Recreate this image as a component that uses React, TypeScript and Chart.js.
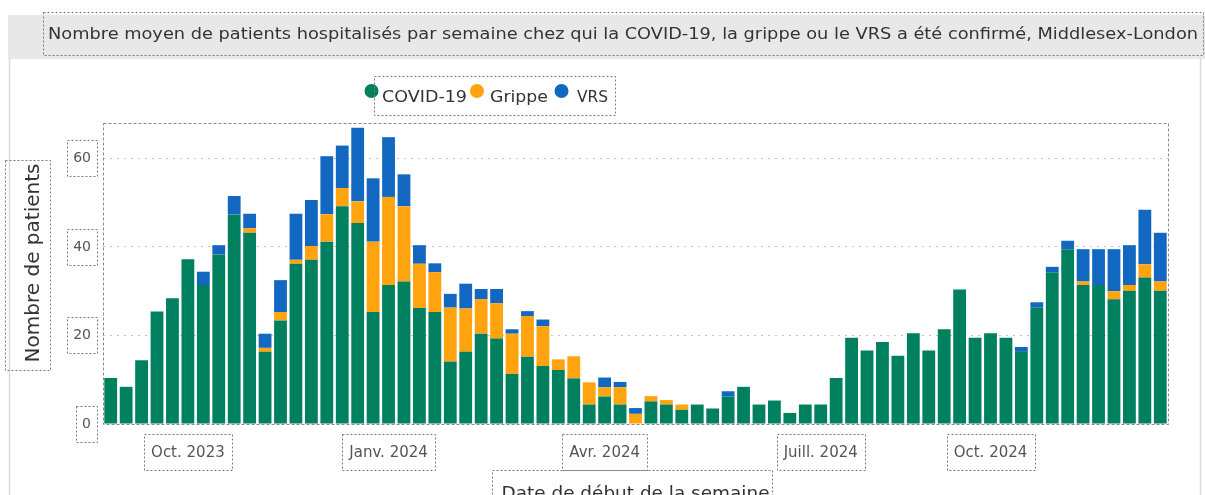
import React, { useEffect, useRef } from "react";
import { Chart, registerables } from "chart.js";

Chart.register(...registerables);

// ---------- data ----------
const weeks = [
  "2023-08-27", "2023-09-03", "2023-09-10", "2023-09-17", "2023-09-24", "2023-10-01", "2023-10-08", "2023-10-15",
  "2023-10-22", "2023-10-29", "2023-11-05", "2023-11-12", "2023-11-19", "2023-11-26", "2023-12-03", "2023-12-10",
  "2023-12-17", "2023-12-24", "2023-12-31", "2024-01-07", "2024-01-14", "2024-01-21", "2024-01-28", "2024-02-04",
  "2024-02-11", "2024-02-18", "2024-02-25", "2024-03-03", "2024-03-10", "2024-03-17", "2024-03-24", "2024-03-31",
  "2024-04-07", "2024-04-14", "2024-04-21", "2024-04-28", "2024-05-05", "2024-05-12", "2024-05-19", "2024-05-26",
  "2024-06-02", "2024-06-09", "2024-06-16", "2024-06-23", "2024-06-30", "2024-07-07", "2024-07-14", "2024-07-21",
  "2024-07-28", "2024-08-04", "2024-08-11", "2024-08-18", "2024-08-25", "2024-09-01", "2024-09-08", "2024-09-15",
  "2024-09-22", "2024-09-29", "2024-10-06", "2024-10-13", "2024-10-20", "2024-10-27", "2024-11-03", "2024-11-10",
  "2024-11-17", "2024-11-24", "2024-12-01", "2024-12-08", "2024-12-15",
];

const covid = [
  10.4, 8.4, 14.4, 25.4, 28.4, 37.2, 31.4, 38.3, 47.3, 43.2,
  16.3, 23.4, 36.2, 37.1, 41.2, 49.2, 45.4, 25.3, 31.4, 32.2,
  26.2, 25.3, 14.1, 16.3, 20.4, 19.3, 11.3, 15.2, 13.1, 12.2,
  10.3, 4.4, 6.2, 4.4, 0, 5.1, 4.4, 3.2, 4.4, 3.5,
  6.2, 8.4, 4.4, 5.3, 2.5, 4.4, 4.4, 10.4, 19.5, 16.6,
  18.5, 15.4, 20.5, 16.6, 21.4, 30.4, 19.5, 20.5, 19.5, 16.3,
  26.3, 34.3, 39.4, 31.4, 31.4, 28.2, 30.1, 33.1, 30.1,
];

const grippe = [
  0, 0, 0, 0, 0, 0, 0, 0, 0, 1.0,
  0.9, 1.9, 0.9, 3.1, 6.2, 4.1, 4.9, 15.9, 19.9, 17.0,
  10.0, 9.0, 12.2, 9.8, 7.8, 8.0, 9.1, 9.2, 9.0, 2.4,
  5.0, 5.0, 2.1, 3.9, 2.3, 1.2, 1.0, 1.2, 0, 0,
  0, 0, 0, 0, 0, 0, 0, 0, 0, 0,
  0, 0, 0, 0, 0, 0, 0, 0, 0, 0,
  0, 0, 0, 0.8, 0, 1.8, 1.3, 3.0, 2.1,
];

const vrs = [
  0, 0, 0, 0, 0, 0, 3.0, 2.1, 4.2, 3.3,
  3.2, 7.2, 10.4, 10.4, 13.1, 9.6, 16.6, 14.3, 13.5, 7.2,
  4.2, 2.0, 3.1, 5.6, 2.3, 3.2, 1.0, 1.1, 1.5, 0,
  0, 0, 2.2, 1.2, 1.3, 0, 0, 0, 0, 0,
  1.2, 0, 0, 0, 0, 0, 0, 0, 0, 0,
  0, 0, 0, 0, 0, 0, 0, 0, 0, 1.1,
  1.2, 1.2, 2.0, 7.3, 8.1, 9.5, 9.0, 12.3, 11.0,
];

const seriesNames = ["COVID-19", "Grippe", "VRS"];
const seriesColors = ["#00805F", "#FFA40F", "#1268C1"];

const xTickIndex = [5, 18, 32, 46, 57];
const xTickText = ["Oct. 2023", "Janv. 2024", "Avr. 2024", "Juill. 2024", "Oct. 2024"];
const yTicks = [0, 20, 40, 60];
const yMax = 68;

const titleText =
  "Nombre moyen de patients hospitalisés par semaine chez qui la COVID-19, la grippe ou le VRS a été confirmé, Middlesex-London";
const yTitle = "Nombre de patients";
const xTitle = "Date de début de la semaine";

const FONT = "'DejaVu Sans', 'Liberation Sans', sans-serif";

// ---------- helpers ----------
function fitText(
  ctx: CanvasRenderingContext2D,
  text: string,
  x: number,
  y: number,
  size: number,
  target: number,
  align: CanvasTextAlign,
  color: string,
  rotate = false
) {
  ctx.save();
  ctx.font = `${size}px ${FONT}`;
  const w = ctx.measureText(text).width;
  const sx = target > 0 ? target / w : 1;
  ctx.translate(x, y);
  if (rotate) ctx.rotate(-Math.PI / 2);
  ctx.scale(sx, 1);
  ctx.fillStyle = color;
  ctx.textBaseline = "middle";
  ctx.textAlign = align;
  ctx.fillText(text, 0, 0);
  ctx.restore();
}

function dotBox(ctx: CanvasRenderingContext2D, x: number, y: number, w: number, h: number) {
  ctx.save();
  ctx.strokeStyle = "#7a7a7a";
  ctx.lineWidth = 1;
  ctx.setLineDash([2, 2]);
  ctx.strokeRect(Math.round(x) + 0.5, Math.round(y) + 0.5, Math.round(w), Math.round(h));
  ctx.restore();
}

const decorPlugin = {
  id: "decor",
  beforeDraw(chart: any) {
    const ctx: CanvasRenderingContext2D = chart.ctx;
    ctx.save();
    ctx.fillStyle = "#ffffff";
    ctx.fillRect(0, 0, chart.width, chart.height);
    // header band
    ctx.fillStyle = "#E8E8E8";
    ctx.fillRect(8, 15, 1197, 44);
    // card borders
    ctx.strokeStyle = "#d9d9d9";
    ctx.lineWidth = 1.5;
    ctx.beginPath();
    ctx.moveTo(9.5, 59);
    ctx.lineTo(9.5, 495);
    ctx.moveTo(1200.5, 59);
    ctx.lineTo(1200.5, 495);
    ctx.stroke();
    ctx.restore();
  },
  afterDraw(chart: any) {
    const ctx: CanvasRenderingContext2D = chart.ctx;
    const ca = chart.chartArea;
    // plot area dashed box
    ctx.save();
    ctx.strokeStyle = "#8a8a8a";
    ctx.lineWidth = 1;
    ctx.setLineDash([3, 2]);
    ctx.strokeRect(Math.round(ca.left) + 0.5, Math.round(ca.top) + 0.5, Math.round(ca.right - ca.left), Math.round(ca.bottom - ca.top));
    ctx.restore();

    // title
    fitText(ctx, titleText, 48, 35, 16, 1150, "left", "#333333");
    dotBox(ctx, 43, 12, 1160, 43);

    // legend
    const lx = [371.5, 477, 561.5];
    const tx = [382, 490, 577];
    const tw = [85, 58, 31];
    for (let i = 0; i < 3; i++) {
      ctx.save();
      ctx.fillStyle = seriesColors[i];
      ctx.beginPath();
      ctx.arc(lx[i], 91, 7, 0, Math.PI * 2);
      ctx.fill();
      ctx.restore();
      fitText(ctx, seriesNames[i], tx[i], 98, 16, tw[i], "left", "#333333");
    }
    dotBox(ctx, 374, 76, 241, 39);

    // axis titles
    fitText(ctx, yTitle, 34, 263, 19, 199, "center", "#333333", true);
    dotBox(ctx, 5, 160, 45, 210);
    fitText(ctx, xTitle, (ca.left + ca.right) / 2, 494, 18, 268, "center", "#333333");
    dotBox(ctx, 492, 470, 280, 40);

    // tick boxes
    const ys = chart.scales.y;
    ctx.save();
    ctx.font = `14px ${FONT}`;
    for (const v of yTicks) {
      const py = ys.getPixelForValue(v);
      const w = ctx.measureText(String(v)).width;
      dotBox(ctx, ca.left - 12 - w - 6, py - 18, w + 12, 36);
    }
    const xs = chart.scales.x;
    ctx.font = `15px ${FONT}`;
    for (let k = 0; k < xTickIndex.length; k++) {
      const px = xs.getPixelForValue(xTickIndex[k]);
      const w = ctx.measureText(xTickText[k]).width;
      dotBox(ctx, px - w / 2 - 7, 434, w + 14, 36);
    }
    ctx.restore();
  },
};

export default function App() {
  const ref = useRef<HTMLCanvasElement | null>(null);

  useEffect(() => {
    if (!ref.current) return;
    const data = [covid, grippe, vrs];
    const chart = new Chart(ref.current, {
      type: "bar",
      data: {
        labels: weeks,
        datasets: data.map((d, i) => ({
          label: seriesNames[i],
          data: d,
          backgroundColor: seriesColors[i],
          borderWidth: 0,
          barPercentage: 0.83,
          categoryPercentage: 1,
        })),
      },
      options: {
        responsive: false,
        animation: false,
        devicePixelRatio: 1,
        layout: { padding: { left: 0, top: 123, right: 37, bottom: 0 } },
        plugins: {
          legend: { display: false },
          tooltip: { enabled: false },
          title: { display: false },
        },
        scales: {
          x: {
            type: "category",
            stacked: true,
            offset: true,
            grid: { display: false, drawTicks: false },
            border: { display: false },
            afterBuildTicks: (s: any) => {
              s.ticks = xTickIndex.map((v) => ({ value: v }));
            },
            afterFit: (s: any) => {
              s.height = 71;
            },
            ticks: {
              autoSkip: false,
              maxRotation: 0,
              minRotation: 0,
              padding: 20,
              color: "#555555",
              font: { family: FONT, size: 15 },
              callback: (v: any) => {
                const k = xTickIndex.indexOf(Number(v));
                return k >= 0 ? xTickText[k] : "";
              },
            },
          },
          y: {
            stacked: true,
            min: 0,
            max: yMax,
            afterBuildTicks: (s: any) => {
              s.ticks = yTicks.map((v) => ({ value: v }));
            },
            afterFit: (s: any) => {
              s.width = 103;
            },
            grid: {
              drawTicks: false,
              lineWidth: 1,
              color: (c: any) => (c.tick && c.tick.value === 0 ? "rgba(0,0,0,0)" : "#c4c4c4"),
            },
            border: { display: false, dash: [2, 5] },
            ticks: {
              padding: 12,
              color: "#555555",
              font: { family: FONT, size: 14 },
            },
          },
        },
      },
      plugins: [decorPlugin],
    } as any);
    return () => chart.destroy();
  }, []);

  return (
    <div style={{ position: "fixed", left: 0, top: 0, width: 1205, height: 495, background: "#fff", overflow: "hidden" }}>
      <canvas ref={ref} width={1205} height={495} style={{ display: "block", width: 1205, height: 495 }} />
    </div>
  );
}
